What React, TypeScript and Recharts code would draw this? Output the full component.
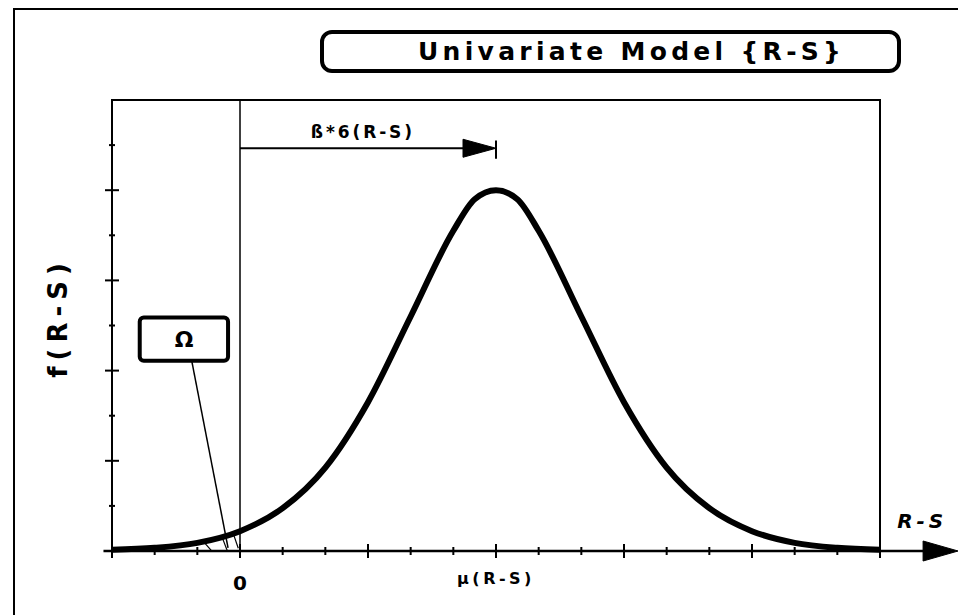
import React from 'react';
import { LineChart, Line, XAxis, YAxis, ReferenceLine, ReferenceArea, ReferenceDot } from 'recharts';

// R-S values (one unit per minor tick on the x axis)
const xValues = [-3, -2, -1, 0, 1, 2, 3, 4, 5, 5.5, 6, 6.5, 7, 8, 9, 10, 11, 12, 13, 14, 15];
// density f(R-S) (y-axis units, one unit per minor tick)
const fValues = [0.03, 0.07, 0.18, 0.44, 0.95, 1.85, 3.3, 5.2, 7.1, 7.8, 8.0, 7.8, 7.1, 5.2, 3.3, 1.85, 0.95, 0.44, 0.18, 0.07, 0.03];

const xTicks = [-3, -2, -1, 0, 1, 2, 3, 4, 5, 6, 7, 8, 9, 10, 11, 12, 13, 14, 15];
const xMajorTicks = [-3, 0, 3, 6, 9, 12, 15];
const xLabelTicks = [0, 6];
const xLabelTexts = ['0', 'μ(R-S)'];
const yTicks = [0, 1, 2, 3, 4, 5, 6, 7, 8, 9];
const yMajorTicks = [0, 2, 4, 6, 8];

const titleText = 'Univariate Model {R-S}';
const yAxisTitle = 'f(R-S)';
const xAxisTitle = 'R-S';
const arrowLabel = 'ß*6(R-S)';
const boxLabel = 'Ω';

const data = xValues.map((x, i) => ({ x, f: fValues[i] }));

const FONT = '"DejaVu Sans", "Liberation Sans", Arial, sans-serif';

const XTick = (props: any) => {
  const { x, y, payload } = props;
  const v = payload.value;
  const len = xMajorTicks.includes(v) ? 7 : 4;
  const idx = xLabelTicks.indexOf(v);
  return (
    <g>
      <line x1={x} x2={x} y1={y - len} y2={y + len} stroke="#000" strokeWidth={2} />
      {idx >= 0 && (
        <text
          x={x}
          y={v === 0 ? y + 39 : y + 33}
          textAnchor="middle"
          fontFamily={FONT}
          fontWeight="bold"
          fontSize={v === 0 ? 20 : 16}
          letterSpacing={v === 0 ? 0 : 3.5}
          fill="#000"
        >
          {xLabelTexts[idx]}
        </text>
      )}
    </g>
  );
};

const YTick = (props: any) => {
  const { x, y, payload } = props;
  const v = payload.value;
  const len = yMajorTicks.includes(v) ? 7 : 3;
  return <line x1={x - len} x2={x + len} y1={y} y2={y} stroke="#000" strokeWidth={2} />;
};

const TextDot = (text: string, size: number, spacing: number, italic = false) => (p: any) => (
  <text
    x={p.cx}
    y={p.cy}
    textAnchor="middle"
    dominantBaseline="central"
    fontFamily={FONT}
    fontWeight="bold"
    fontStyle={italic ? 'italic' : 'normal'}
    fontSize={size}
    letterSpacing={spacing}
    fill="#000"
  >
    {text}
  </text>
);

const ArrowHead = (len: number, half: number) => (p: any) => (
  <polygon
    points={`${p.cx - len},${p.cy - half} ${p.cx},${p.cy} ${p.cx - len},${p.cy + half}`}
    fill="#000"
    stroke="#000"
  />
);

const BoxShape = (p: any) => (
  <rect x={p.x} y={p.y} width={p.width} height={p.height} rx={4} ry={4} fill="#fff" stroke="#000" strokeWidth={4} />
);

export default function App() {
  return (
    <div style={{ position: 'absolute', left: 0, top: 0, width: 958, height: 615, background: '#fff', overflow: 'hidden' }}>
      <div
        style={{
          position: 'absolute',
          left: 13,
          top: 8,
          width: 958,
          height: 615,
          borderTop: '2px solid #000',
          borderLeft: '2px solid #000',
        }}
      />
      <div
        style={{
          position: 'absolute',
          left: 320,
          top: 30,
          width: 479,
          height: 35,
          border: '4px solid #000',
          borderRadius: 12,
          display: 'flex',
          alignItems: 'center',
          paddingLeft: 94,
          boxSizing: 'content-box',
          fontFamily: FONT,
          fontWeight: 'bold',
          fontSize: 25,
          letterSpacing: 4.3,
          color: '#000',
          whiteSpace: 'nowrap',
        }}
      >
        {titleText}
      </div>
      <div style={{ position: 'absolute', left: 0, top: 0 }}>
        <LineChart width={958} height={615} data={data} margin={{ top: 100, right: 78, bottom: 34, left: 52 }}>
          <XAxis
            dataKey="x"
            type="number"
            domain={[-3, 15]}
            ticks={xTicks}
            interval={0}
            axisLine={false}
            tickLine={false}
            tickSize={0}
            tickMargin={0}
            height={30}
            tick={<XTick />}
          />
          <YAxis
            type="number"
            domain={[0, 10]}
            ticks={yTicks}
            interval={0}
            axisLine={false}
            tickLine={false}
            tickSize={0}
            tickMargin={0}
            width={60}
            tick={<YTick />}
            label={{
              content: (lp: any) => {
                const vb = lp.viewBox || { x: 52, y: 100, width: 60, height: 451 };
                const cx = vb.x + 6;
                const cy = vb.y + vb.height / 2 - 8;
                return (
                  <text
                    x={cx}
                    y={cy}
                    transform={`rotate(-90 ${cx} ${cy})`}
                    textAnchor="middle"
                    dominantBaseline="central"
                    fontFamily={FONT}
                    fontWeight="bold"
                    fontSize={26}
                    letterSpacing={6}
                    fill="#000"
                  >
                    {yAxisTitle}
                  </text>
                );
              },
            }}
          />
          <ReferenceArea x1={-3} x2={15} y1={0} y2={10} fill="none" stroke="#000" strokeWidth={2} ifOverflow="visible" />
          <ReferenceLine
            segment={[{ x: -3.2, y: 0 }, { x: 16.05, y: 0 }]}
            stroke="#000"
            strokeWidth={2.5}
            ifOverflow="visible"
          />
          <ReferenceDot x={16.83} y={0} r={0} ifOverflow="visible" shape={ArrowHead(35, 10)} />
          <ReferenceLine x={0} stroke="#000" strokeWidth={1.5} ifOverflow="visible" />
          <Line
            type="monotone"
            dataKey="f"
            stroke="#000"
            strokeWidth={6}
            dot={false}
            activeDot={false}
            isAnimationActive={false}
          />
          {/* beta * sigma arrow */}
          <ReferenceLine
            segment={[{ x: 0, y: 8.93 }, { x: 5.3, y: 8.93 }]}
            stroke="#000"
            strokeWidth={2}
            ifOverflow="visible"
          />
          <ReferenceDot x={6} y={8.93} r={0} ifOverflow="visible" shape={ArrowHead(33, 9)} />
          <ReferenceLine
            segment={[{ x: 6, y: 9.1 }, { x: 6, y: 8.7 }]}
            stroke="#000"
            strokeWidth={2}
            ifOverflow="visible"
          />
          <ReferenceDot x={2.88} y={9.3} r={0} ifOverflow="visible" shape={TextDot(arrowLabel, 17, 2.9)} />
          {/* failure probability box */}
          <ReferenceLine
            segment={[{ x: -1.13, y: 4.21 }, { x: -0.28, y: 0.07 }]}
            stroke="#000"
            strokeWidth={1.5}
            ifOverflow="visible"
          />
          <ReferenceLine segment={[{ x: -0.82, y: 0.17 }, { x: -0.67, y: 0.01 }]} stroke="#000" strokeWidth={1.2} ifOverflow="visible" />
          <ReferenceLine segment={[{ x: -0.43, y: 0.33 }, { x: -0.3, y: 0.01 }]} stroke="#000" strokeWidth={1.2} ifOverflow="visible" />
          <ReferenceLine segment={[{ x: -0.16, y: 0.39 }, { x: -0.04, y: 0.06 }]} stroke="#000" strokeWidth={1.2} ifOverflow="visible" />
          <ReferenceArea x1={-2.35} x2={-0.28} y1={4.22} y2={5.18} ifOverflow="visible" shape={BoxShape} />
          <ReferenceDot x={-1.31} y={4.69} r={0} ifOverflow="visible" shape={TextDot(boxLabel, 22, 0)} />
          <ReferenceDot x={15.99} y={0.67} r={0} ifOverflow="visible" shape={TextDot(xAxisTitle, 20, 4, true)} />
        </LineChart>
      </div>
    </div>
  );
}
